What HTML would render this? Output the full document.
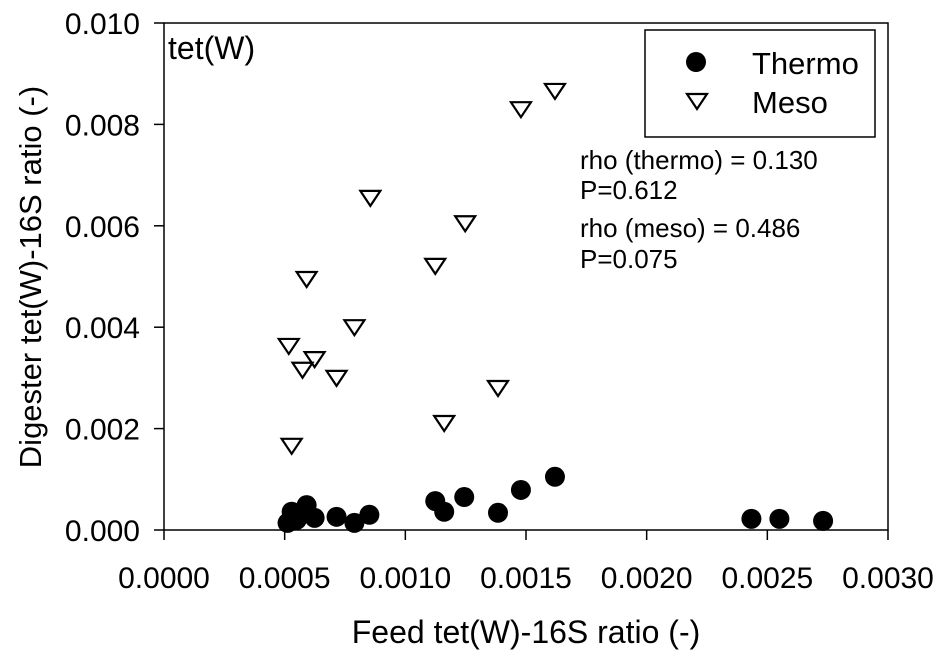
<!DOCTYPE html>
<html><head><meta charset="utf-8"><style>
html,body{margin:0;padding:0;background:#fff;}
svg{display:block;font-family:"Liberation Sans",Arial,sans-serif;}
</style></head><body>
<svg id="chart" width="945" height="659" viewBox="0 0 945 659">
<g id="axes"></g>
<g id="marks"></g>
<rect x="645" y="30" width="230" height="107" fill="#fff" stroke="#000" stroke-width="1.5"/>
<circle cx="696" cy="62" r="10" fill="#000"/>
<text x="752" y="74" font-size="31">Thermo</text>
<path d="M687,94 L707,94 L697,109 Z" fill="#fff" stroke="#000" stroke-width="2.2"/>
<text x="752" y="113" font-size="31">Meso</text>
<text x="168" y="59" font-size="32">tet(W)</text>
<g font-size="26">
<text x="580" y="169">rho (thermo) = 0.130</text>
<text x="580" y="199">P=0.612</text>
<text x="580" y="237">rho (meso) = 0.486</text>
<text x="580" y="268">P=0.075</text>
</g>
<text x="526" y="643" font-size="32" text-anchor="middle">Feed tet(W)-16S ratio (-)</text>
<text transform="translate(41,277) rotate(-90)" font-size="31" text-anchor="middle">Digester tet(W)-16S ratio (-)</text>
</svg>
<script>
const thermoX=[0.000512,0.000529,0.000591,0.000624,0.000715,0.000789,0.000851,0.00055,0.001124,0.001161,0.001244,0.001384,0.001479,0.00162,0.002434,0.00255,0.002731];
const thermoY=[0.00014,0.00036,0.00049,0.00024,0.00026,0.00014,0.0003,0.0002,0.00057,0.00036,0.00065,0.00034,0.00079,0.00105,0.00022,0.00022,0.00018];
const mesoX=[0.000591,0.001124,0.000789,0.000517,0.000624,0.000574,0.000715,0.001384,0.001161,0.000529,0.000855,0.001248,0.001479,0.00162];
const mesoY=[0.00497,0.00523,0.00402,0.00365,0.00339,0.00318,0.00302,0.00282,0.00213,0.00168,0.00657,0.00607,0.00832,0.00868];
const xTicks=["0.0000","0.0005","0.0010","0.0015","0.0020","0.0025","0.0030"];
const yTicks=["0.000","0.002","0.004","0.006","0.008","0.010"];
const L=164,R=888,T=23,B=530;
const sx=v=>L+(v/0.003)*(R-L);
const sy=v=>B-(v/0.010)*(B-T);
const NS="http://www.w3.org/2000/svg";
const axes=document.getElementById('axes'),marks=document.getElementById('marks');
function mk(tag,attrs,parent){const e=document.createElementNS(NS,tag);for(const k in attrs)e.setAttribute(k,attrs[k]);parent.appendChild(e);return e;}
const frame=mk('rect',{x:L,y:T,width:R-L,height:B-T,fill:'none',stroke:'#000','stroke-width':1.5},axes);


xTicks.forEach(t=>{const x=sx(parseFloat(t));
const l=mk('line',{x1:x,x2:x,y1:B,y2:B+10,stroke:'#000','stroke-width':1.5},axes);


const tx=mk('text',{x:x,y:B+58,'font-size':30,'text-anchor':'middle'},axes);tx.textContent=t;

});
yTicks.forEach(t=>{const y=sy(parseFloat(t));
const l=mk('line',{x1:L-10,x2:L,y1:y,y2:y,stroke:'#000','stroke-width':1.5},axes);


const tx=mk('text',{x:L-24,y:y+11,'font-size':30,'text-anchor':'end'},axes);tx.textContent=t;

});
thermoX.forEach((v,i)=>{const c=mk('circle',{cx:sx(v),cy:sy(thermoY[i]),r:10,fill:'#000'},marks);

});
mesoX.forEach((v,i)=>{const x=sx(v),y=sy(mesoY[i]);
const p=mk('path',{d:`M${x-10},${y-6} L${x+10},${y-6} L${x},${y+9} Z`,fill:'#fff',stroke:'#000','stroke-width':2.2},marks);

});
</script>
</body></html>
